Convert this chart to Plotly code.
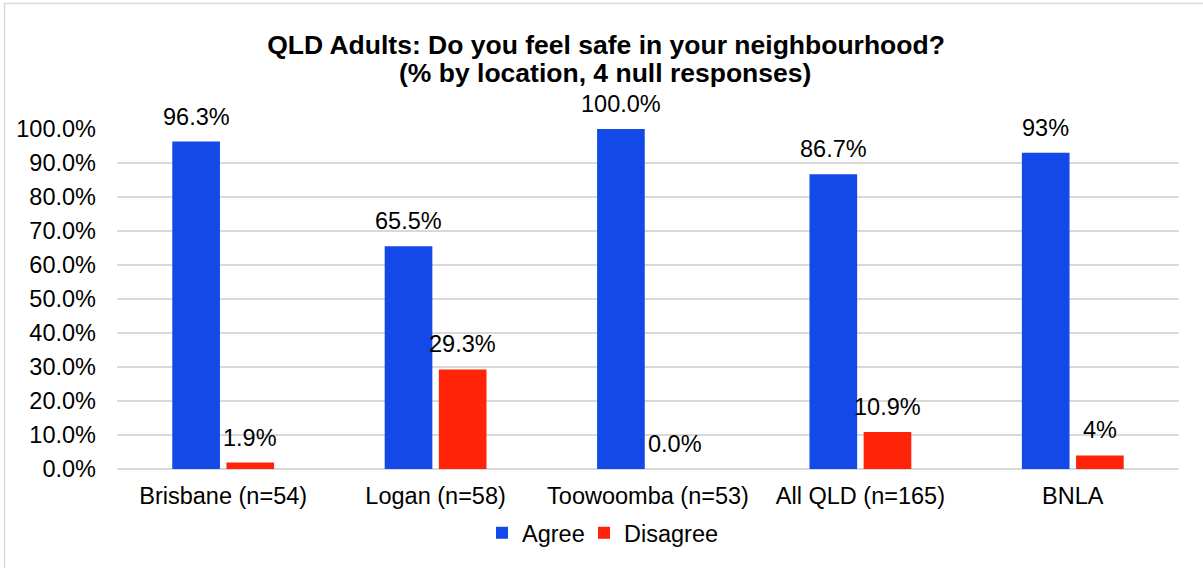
import plotly.graph_objects as go

categories = ["Brisbane (n=54)", "Logan (n=58)", "Toowoomba (n=53)", "All QLD (n=165)", "BNLA"]
agree = [96.3, 65.5, 100.0, 86.7, 93]
disagree = [1.9, 29.3, 0.0, 10.9, 4]
agree_labels = ["96.3%", "65.5%", "100.0%", "86.7%", "93%"]
disagree_labels = ["1.9%", "29.3%", "0.0%", "10.9%", "4%"]
y_ticks = [0, 10, 20, 30, 40, 50, 60, 70, 80, 90, 100]
y_tick_labels = ["0.0%", "10.0%", "20.0%", "30.0%", "40.0%", "50.0%",
                 "60.0%", "70.0%", "80.0%", "90.0%", "100.0%"]
title_line1 = "QLD Adults: Do you feel safe in your neighbourhood?"
title_line2 = "(% by location, 4 null responses)"

W, H = 1203, 568
L, R, T, B = 117, 24, 129, 99
pw, ph = W - L - R, H - T - B
BARGAP, GROUPGAP = 0.49, 0.12

FONT = "Liberation Sans, Arial, sans-serif"
FS = 23.5
TFS = 26.5
BLUE, RED = "#1249E8", "#FF2408"


def px_x(p):
    return (p - L) / pw


def px_y(p):
    return (H - B - p) / ph


fig = go.Figure()
fig.add_trace(go.Bar(
    name="Agree", x=categories, y=agree, legend="legend",
    marker=dict(color=BLUE, line=dict(width=0)),
))
fig.add_trace(go.Bar(
    name="Disagree", x=categories, y=disagree, legend="legend2",
    marker=dict(color=RED, line=dict(width=0)),
))

# data labels placed above each bar through the axes
slot = (pw / len(categories)) * (1 - BARGAP) / 2
annotations = []
for vals, labs, sgn in ((agree, agree_labels, -1), (disagree, disagree_labels, 1)):
    for c, v, t in zip(categories, vals, labs):
        annotations.append(dict(
            x=c, y=v, xref="x", yref="y", text=t, showarrow=False,
            xshift=sgn * slot / 2, yshift=25, yanchor="middle", xanchor="center",
            font=dict(size=FS, family=FONT, color="#000000"),
        ))

# second line of the title
annotations.append(dict(
    x=px_x(605), y=px_y(73), xref="paper", yref="paper",
    text="<b>" + title_line2 + "</b>",
    showarrow=False, xanchor="center", yanchor="middle",
    font=dict(size=TFS, family=FONT, color="#000000"),
))

legend_common = dict(
    orientation="h", yanchor="middle", y=px_y(533),
    font=dict(size=FS, family=FONT), itemwidth=30,
    bgcolor="rgba(0,0,0,0)", xanchor="left",
)

fig.update_layout(
    width=W, height=H,
    margin=dict(l=L, r=R, t=T, b=B, autoexpand=False),
    paper_bgcolor="white", plot_bgcolor="white",
    barmode="group", bargap=BARGAP, bargroupgap=GROUPGAP,
    font=dict(family=FONT, color="#000000", size=FS),
    title=dict(
        text="<b>" + title_line1 + "</b>",
        x=606 / W, xanchor="center", y=1 - 45 / H, yanchor="middle",
        xref="container", yref="container",
        font=dict(size=TFS, family=FONT, color="#000000"),
    ),
    showlegend=True,
    legend=dict(legend_common, x=px_x(482)),
    legend2=dict(legend_common, x=px_x(584)),
    xaxis=dict(
        showgrid=False, zeroline=False, showline=False, ticks="",
        tickfont=dict(size=FS, family=FONT), ticklabelstandoff=10,
    ),
    yaxis=dict(
        range=[0, 100], tickvals=y_ticks, ticktext=y_tick_labels,
        showgrid=True, gridcolor="#D9D9D9", gridwidth=1.5,
        zeroline=True, zerolinecolor="#D9D9D9", zerolinewidth=1.5,
        showline=False, ticks="", ticklabelstandoff=20,
        tickfont=dict(size=FS, family=FONT),
    ),
    annotations=annotations,
    shapes=[dict(
        type="rect", xref="paper", yref="paper",
        x0=px_x(4.5), x1=px_x(1215), y0=px_y(3.5), y1=px_y(580),
        line=dict(color="#D9D9D9", width=1.5), fillcolor="rgba(0,0,0,0)", layer="below",
    )],
)

fig.write_html("out.html", config={"displayModeBar": False},
               post_script="document.body.style.margin='0px';")
